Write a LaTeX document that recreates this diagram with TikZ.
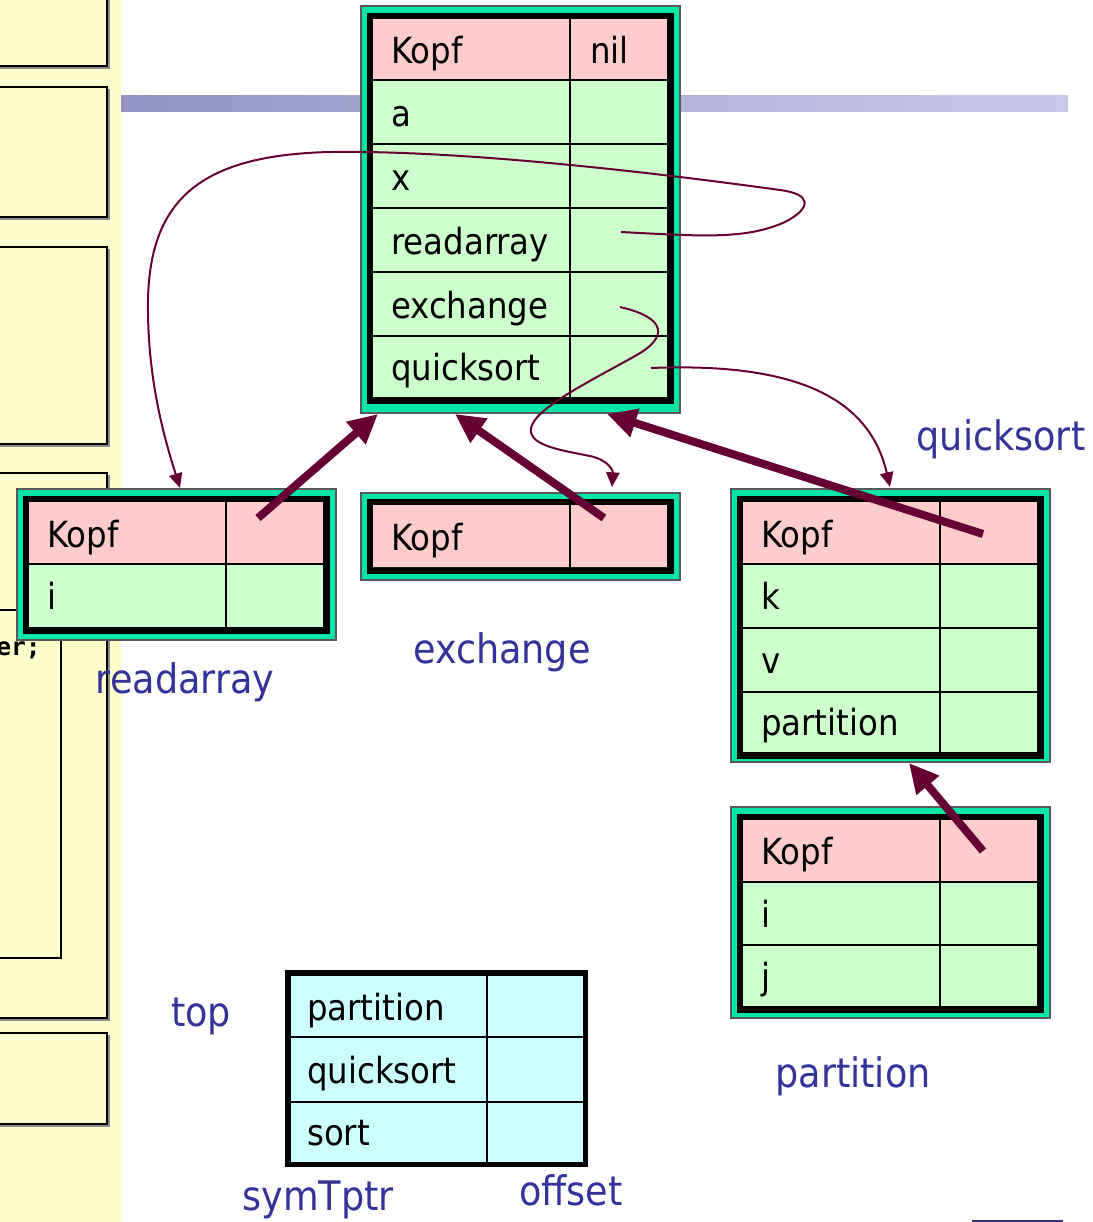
\documentclass[tikz,border=0pt]{standalone}
\usepackage{fontspec}
\setmainfont{DejaVu Sans Condensed}
\newfontfamily\codefont{DejaVu Sans Mono}
\usetikzlibrary{arrows.meta}

\definecolor{panelyellow}{HTML}{FFFFCC}
\definecolor{barleft}{HTML}{9494C6}
\definecolor{barright}{HTML}{CACAE8}
\definecolor{framegreen}{RGB}{0,230,168}
\definecolor{headpink}{HTML}{FFCCCC}
\definecolor{rowgreen}{HTML}{CCFFCC}
\definecolor{rowcyan}{HTML}{CCFFFF}
\definecolor{linkred}{HTML}{660033}
\definecolor{labelblue}{HTML}{333399}
\definecolor{rulenavy}{HTML}{333377}

\tikzset{
  celltext/.style={anchor=base west, inner sep=0pt, font=\fontsize{27}{30}\selectfont},
  tablabel/.style={anchor=base, inner sep=0pt, text=labelblue, font=\fontsize{30.5}{34}\selectfont},
  ptr/.style={draw=linkred, line width=6pt, -{Triangle[length=22pt,width=21pt]}},
  link/.style={draw=linkred, line width=1.5pt, -{Triangle[length=11pt,width=10pt]}},
  panelbox/.style={draw=black, line width=1.5pt},
  panelshadow/.style={draw=black!45, line width=1pt},
  gridline/.style={draw=black, line width=1.8pt},
}

% a symbol table frame: green border, black frame, head row and body rows
% #1..#4 = outer box x0,y0,x1,y1; #5..#8 = cell area x0,y0,x1,y1; #9 = y of head row bottom
\newcommand\tableframe[9]{%
  \filldraw[fill=framegreen, draw=black!65, line width=0.8pt] (#1,#2) rectangle (#3,#4);
  \fill[black] (#5-6,#6-6) rectangle (#7+7,#8+7);
  \fill[headpink] (#5,#6) rectangle (#7,#9);
  \fill[rowgreen] (#5,#9) rectangle (#7,#8);
}

\begin{document}
\begin{tikzpicture}[x=0.75pt,y=-0.75pt]
\useasboundingbox (0,0) rectangle (1093,1222);

% ---- left panel with framed boxes ----
\fill[panelyellow] (0,0) rectangle (121,1222);
\foreach \ya/\yb in {-10/66, 87/217, 247/444, 473/1018, 1033/1124}{
  \draw[panelshadow] (-10,\yb+2) -- (109,\yb+2) -- (109,\ya+2);
  \draw[panelbox] (-10,\ya) rectangle (107,\yb);
}
\draw[panelbox] (-10,610) rectangle (61,958);
\node[anchor=base west, inner sep=0pt, font=\codefont\bfseries\fontsize{18.5}{20}\selectfont] (clipcode) at (-4,655) {er;};

% ---- title bar ----
\shade[left color=barleft, right color=barright] (121,95) rectangle (1068,111);

% ---- global table ----
\tableframe{361}{6}{680}{413}{373}{19}{667}{397}{80}
\foreach \yy in {80,144,208,272,336} \draw[gridline] (373,\yy) -- (667,\yy);
\draw[gridline] (570,19) -- (570,397);
\node[celltext] (gKopf) at (391,63) {Kopf};
\node[celltext] (gNil) at (590,63) {nil};
\node[celltext] (gA) at (391,126) {a};
\node[celltext] (gX) at (391,190) {x};
\node[celltext] (gRead) at (391,254) {readarray};
\node[celltext] (gExch) at (391,318) {exchange};
\node[celltext] (gQuick) at (391,380) {quicksort};

% ---- readarray table ----
\tableframe{17}{489}{336}{640}{29}{502}{323}{627}{564}
\draw[gridline] (29,564) -- (323,564);
\draw[gridline] (226,502) -- (226,627);
\node[celltext] (rKopf) at (47,547) {Kopf};
\node[celltext] (rI) at (47,609) {i};

% ---- exchange table ----
\tableframe{361}{493}{680}{580}{373}{505}{667}{567}{567}
\draw[gridline] (570,505) -- (570,567);
\node[celltext] (eKopf) at (391,550) {Kopf};

% ---- quicksort table ----
\tableframe{731}{489}{1050}{762}{743}{502}{1037}{752}{564}
\foreach \yy in {564,628,692} \draw[gridline] (743,\yy) -- (1037,\yy);
\draw[gridline] (940,502) -- (940,752);
\node[celltext] (qKopf) at (761,547) {Kopf};
\node[celltext] (qK) at (761,609.5) {k};
\node[celltext] (qV) at (761,673.5) {v};
\node[celltext] (qPart) at (761,735.5) {partition};

% ---- partition table ----
\tableframe{731}{807}{1050}{1018}{743}{820}{1037}{1006}{882}
\foreach \yy in {882,945} \draw[gridline] (743,\yy) -- (1037,\yy);
\draw[gridline] (940,820) -- (940,1006);
\node[celltext] (pKopf) at (761,864.5) {Kopf};
\node[celltext] (pI) at (761,927) {i};
\node[celltext] (pJ) at (761,989) {j};

% ---- stack of open scopes ----
\fill[black] (285,970) rectangle (588,1167);
\fill[rowcyan] (291,976) rectangle (583,1162);
\foreach \yy in {1037,1102} \draw[gridline] (291,\yy) -- (583,\yy);
\draw[gridline] (487,976) -- (487,1162);
\node[celltext] (sPart) at (307,1020) {partition};
\node[celltext] (sQuick) at (307,1083) {quicksort};
\node[celltext] (sSort) at (307,1145.5) {sort};

% ---- connector end points ----
\coordinate (readSlot) at (621,232);
\coordinate (readTop) at (180,488);
\coordinate (exchSlot) at (620,307);
\coordinate (exchTop) at (612,487);
\coordinate (quickSlot) at (651,368);
\coordinate (quickTop) at (890,487);
\coordinate (rParent) at (258,518);
\coordinate (eParent) at (604,518);
\coordinate (qParent) at (983,534);
\coordinate (pParent) at (983,851);
\coordinate (gBottomA) at (378,414);
\coordinate (gBottomB) at (455,414);
\coordinate (gBottomC) at (607,414);
\coordinate (qBottom) at (909,763);

% ---- links from entries to their tables ----
\draw[link] (readSlot) .. controls (700,236) and (745,240) .. (785,222)
  .. controls (812,208) and (812,194) .. (780,190)
  .. controls (650,172) and (460,150) .. (330,152)
  .. controls (200,155) and (150,200) .. (148,300)
  .. controls (147,380) and (165,440) .. (readTop);
\draw[link] (exchSlot) .. controls (668,318) and (668,338) .. (635,356)
  .. controls (600,376) and (540,405) .. (532,425)
  .. controls (524,445) and (560,450) .. (590,456)
  .. controls (608,460) and (613,470) .. (exchTop);
\draw[link] (quickSlot) .. controls (800,362) and (870,400) .. (quickTop);

% ---- parent pointers ----
\draw[ptr] (rParent) -- (gBottomA);
\draw[ptr] (eParent) -- (gBottomB);
\draw[ptr] (qParent) -- (gBottomC);
\draw[ptr] (pParent) -- (qBottom);

% ---- labels ----
\node[tablabel] (lQuick) at (1001,450) {quicksort};
\node[tablabel] (lExch) at (502,663) {exchange};
\node[tablabel] (lRead) at (185,693) {readarray};
\node[tablabel] (lPart) at (853,1087) {partition};
\node[tablabel] (lTop) at (201,1026) {top};
\node[tablabel] (lSym) at (318,1210) {symTptr};
\node[tablabel] (lOff) at (571,1205) {offset};

% ---- footer rule ----
\draw[rulenavy, line width=1.5pt] (972,1221) -- (1063,1221);
\end{tikzpicture}
\end{document}
